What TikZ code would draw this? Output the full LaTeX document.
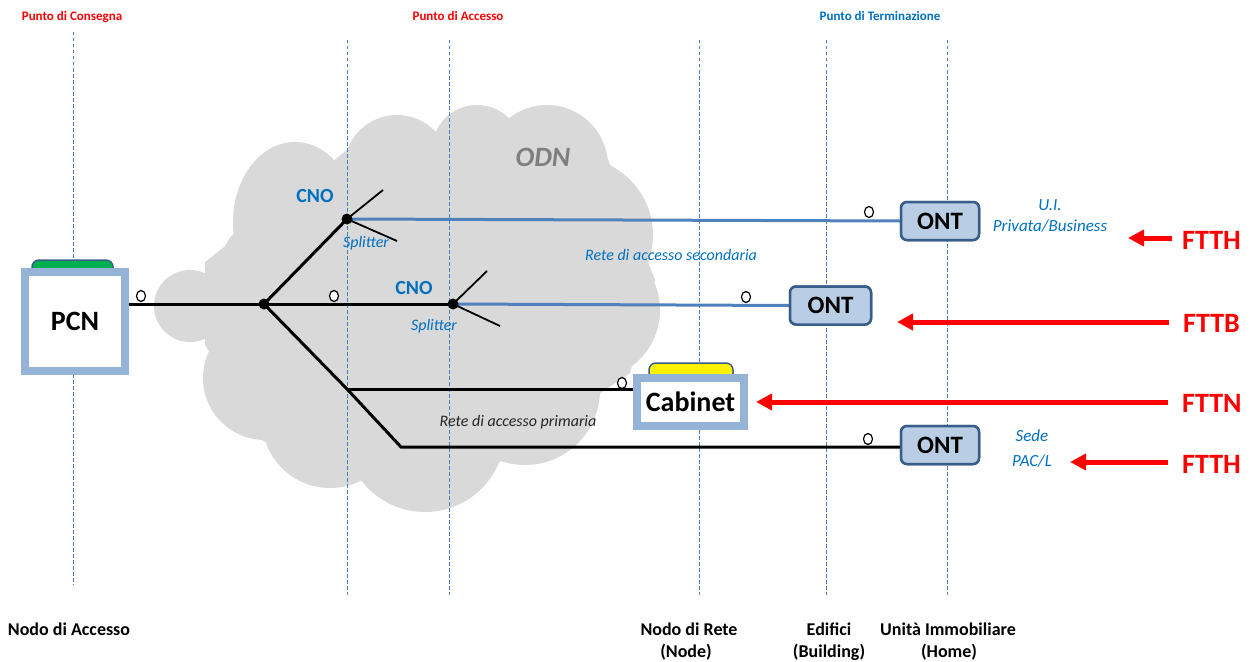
\documentclass[tikz,border=0pt]{standalone}
\usepackage{fontspec}
\setmainfont{Carlito}
\usetikzlibrary{arrows.meta}
\definecolor{vblue}{HTML}{4A7EBB}
\definecolor{tblue}{HTML}{0070C0}
\definecolor{lblue}{HTML}{95B3D7}
\definecolor{ontfill}{HTML}{B9CDE5}
\definecolor{ontdraw}{HTML}{385D8A}
\definecolor{cloudc}{HTML}{D9D9D9}
\definecolor{fred}{HTML}{FF0000}
\definecolor{lineblue}{HTML}{4F81BD}
\definecolor{tabgreen}{HTML}{00B050}
\definecolor{odngray}{HTML}{7F7F7F}
\definecolor{dtext}{HTML}{262626}
\begin{document}
\begin{tikzpicture}[x=1pt,y=-1pt,
  guide/.style={draw=vblue, line width=0.9pt, dash pattern=on 3.5pt off 2.5pt},
  fiber/.style={line width=3pt, draw=black},
  bfiber/.style={line width=3pt, draw=lineblue},
  branch/.style={line width=1.8pt, draw=black},
  ontbox/.style={draw=ontdraw, fill=ontfill, line width=2.5pt, rounded corners=6pt, minimum width=78pt, minimum height=38pt, font=\fontsize{25}{28}\selectfont\bfseries, inner sep=0pt},
  bigbox/.style={draw=lblue, fill=white, line width=8pt, inner sep=0pt},
  tabshape/.style={draw=ontdraw, line width=1.5pt, rounded corners=7pt},
  ring/.style={draw=black, fill=white, line width=1.2pt},
  fttlabel/.style={text=fred, font=\fontsize{28}{30}\selectfont\bfseries, inner sep=0pt, anchor=west},
  farrow/.style={draw=fred, line width=5pt, -{Triangle[length=16pt,width=16pt]}},
  toplabel/.style={font=\fontsize{13}{15}\selectfont\bfseries, anchor=base, inner sep=0pt},
  botlabel/.style={font=\fontsize{18}{20}\selectfont\bfseries, anchor=base, inner sep=0pt},
  itlabel/.style={font=\fontsize{16}{18}\selectfont\itshape, text=tblue, anchor=base, inner sep=0pt},
  cnolabel/.style={font=\fontsize{20}{22}\selectfont\bfseries, text=tblue, inner sep=0pt}
]
\useasboundingbox (0,0) rectangle (1252,661);
% cloud
\fill[cloudc] (205,262) -- (347,150) -- (436,132) -- (515,123) -- (607,157) -- (655,280) -- (630,373) -- (500,462) -- (340,480) -- (262,440) -- (205,345) -- cycle;
\fill[cloudc] (190,306) circle (36);
\fill[cloudc] (295,222) ellipse [x radius=62, y radius=80];
\fill[cloudc] (262,262) circle (40);
\fill[cloudc] (397,168) circle (53);
\fill[cloudc] (477,150) circle (45);
\fill[cloudc] (547,166) circle (61);
\fill[cloudc] (575,235) circle (78);
\fill[cloudc] (590,310) circle (70);
\fill[cloudc] (525,390) circle (75);
\fill[cloudc] (425,432) circle (80);
\fill[cloudc] (330,420) circle (68);
\fill[cloudc] (265,378) circle (62);
% guides
\draw[guide] (73,32) -- (73,585);
\foreach \gx in {347,449,699,826,947} { \draw[guide] (\gx,40) -- (\gx,595); }
% top labels
\node[toplabel, text=fred] (tpc) at (72,21) {Punto di Consegna};
\node[toplabel, text=fred] (tpa) at (458,21) {Punto di Accesso};
\node[toplabel, text=tblue] (tpt) at (880,21) {Punto di Terminazione};
% ODN
\node[font=\fontsize{28}{30}\selectfont\bfseries\itshape, text=odngray, inner sep=0pt] (odn) at (543,157) {ODN};
% coordinates
\coordinate (j) at (264,304);
\coordinate (cno1) at (347,219);
\coordinate (cno2) at (453,304);
\coordinate (k) at (347,389);
\coordinate (m) at (401,447);
% tabs
\draw[tabshape, fill=tabgreen] (32,280) rectangle (113,260);
\draw[tabshape, fill=yellow] (649,380) rectangle (733,363);
% boxes
\node[bigbox, minimum width=100pt, minimum height=99pt, font=\fontsize{28}{30}\selectfont\bfseries] (pcn) at (75,321.5) {PCN};
\node[bigbox, minimum width=107pt, minimum height=48pt, font=\fontsize{28}{30}\selectfont\bfseries] (cab) at (690.5,402) {Cabinet};
\node[ontbox] (ont1) at (940,221) {ONT};
\node[ontbox, minimum width=81pt] (ont2) at (830.5,305.5) {ONT};
\node[ontbox] (ont3) at (940,445) {ONT};
% fibers
\draw[fiber] (pcn.east |- j) -- (j);
\draw[fiber] (j) -- (cno1);
\draw[fiber] (j) -- (cno2);
\draw[fiber] (j) -- (k) -- (m) -- (ont3.west |- m);
\draw[fiber] (k) -- (cab.west |- k);
\draw[bfiber] (cno1) -- (ont1.west);
\draw[bfiber] (cno2) -- (ont2.west);
\draw[branch] (cno1) -- ++(36,-29);
\draw[branch] (cno1) -- ++(50,22);
\draw[branch] (cno2) -- ++(34,-33);
\draw[branch] (cno2) -- ++(47,22);
\fill (j) circle (5.5);
\fill (cno1) circle (5.5);
\fill (cno2) circle (5.5);
% rings
\foreach \rx/\ry in {141/296, 334/296, 622/383, 869/212, 746/297, 868/439} {
  \draw[ring] (\rx,\ry) ellipse [x radius=4.5, y radius=5.5];
}
% redraw box borders over line ends
\node[bigbox, minimum width=100pt, minimum height=99pt, font=\fontsize{28}{30}\selectfont\bfseries] at (pcn) {PCN};
\node[bigbox, minimum width=107pt, minimum height=48pt, font=\fontsize{28}{30}\selectfont\bfseries] at (cab) {Cabinet};
\node[ontbox] at (ont1) {ONT};
\node[ontbox, minimum width=81pt] at (ont2) {ONT};
\node[ontbox] at (ont3) {ONT};
% labels
\node[cnolabel] (cnol1) at (315,196) {CNO};
\node[cnolabel] (cnol2) at (414,288) {CNO};
\node[itlabel] (spl1) at (366,247) {Splitter};
\node[itlabel] (spl2) at (434,330) {Splitter};
\node[itlabel] (sec) at (671,260) {Rete di accesso secondaria};
\node[itlabel, text=dtext] (pri) at (518,426) {Rete di accesso primaria};
\node[itlabel, font=\fontsize{17}{19}\selectfont\itshape] (ui1) at (1050,210) {U.I.};
\node[itlabel, font=\fontsize{17}{19}\selectfont\itshape] (ui2) at (1050,231) {Privata/Business};
\node[itlabel, font=\fontsize{17}{19}\selectfont\itshape] (sede1) at (1032,441) {Sede};
\node[itlabel, font=\fontsize{17}{19}\selectfont\itshape] (sede2) at (1032,466) {PAC/L};
% FTT labels
\node[fttlabel] (ftth1) at (1182,240) {FTTH};
\node[fttlabel] (fttb) at (1183,323) {FTTB};
\node[fttlabel] (fttn) at (1182,403) {FTTN};
\node[fttlabel] (ftth2) at (1182,464) {FTTH};
\coordinate (tip1) at (1128,238);
\coordinate (tip2) at (897,322);
\coordinate (tip3) at (756,402);
\coordinate (tip4) at (1070,462);
\draw[farrow] ([xshift=-10pt]ftth1.west |- tip1) -- (tip1);
\draw[farrow] ([xshift=-14pt]fttb.west |- tip2) -- (tip2);
\draw[farrow] ([xshift=-14pt]fttn.west |- tip3) -- (tip3);
\draw[farrow] ([xshift=-14pt]ftth2.west |- tip4) -- (tip4);
% bottom labels
\node[botlabel] (b1) at (69,635) {Nodo di Accesso};
\node[botlabel] (b2) at (689,635) {Nodo di Rete};
\node[botlabel] (b2b) at (686,657) {(Node)};
\node[botlabel] (b3) at (829,635) {Edifici};
\node[botlabel] (b3b) at (829,657) {(Building)};
\node[botlabel] (b4) at (948,635) {Unità Immobiliare};
\node[botlabel] (b4b) at (949,657) {(Home)};
\end{tikzpicture}
\end{document}
